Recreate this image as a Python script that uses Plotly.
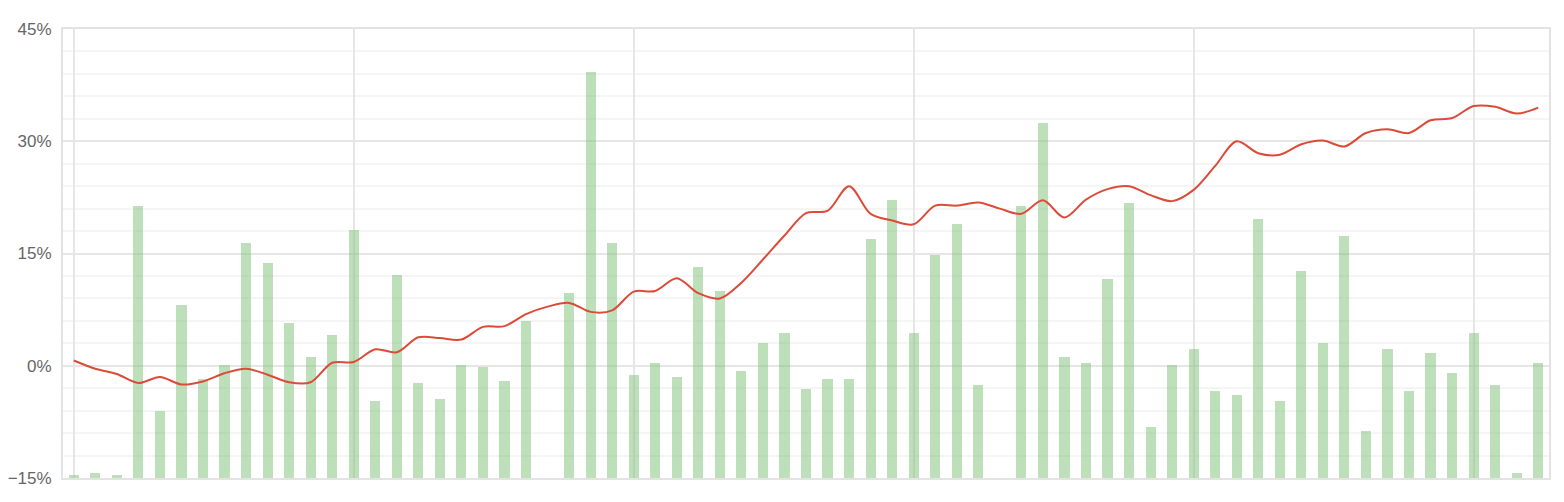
import plotly.graph_objects as go

# period index (one bar per period, no labels shown on the x axis)
periods = list(range(69))

# per-period return, % (None = no bar)
period_returns = [
    -14.6, -14.3, -14.6, 21.4, -6.0, 8.1, -1.8, 0.1, 16.4, 13.7,
    5.7, 1.2, 4.1, 18.2, -4.7, 12.1, -2.3, -4.4, 0.1, -0.2,
    -2.0, 6.0, None, 9.7, 39.3, 16.4, -1.2, 0.4, -1.5, 13.2,
    10.0, -0.7, 3.0, 4.4, -3.1, -1.8, -1.8, 16.9, 22.2, 4.4,
    14.8, 19.0, -2.6, None, 21.4, 32.4, 1.2, 0.4, 11.6, 21.7,
    -8.2, 0.1, 2.2, -3.4, -3.9, 19.6, -4.7, 12.6, 3.0, 17.4,
    -8.7, 2.2, -3.4, 1.7, -1.0, 4.4, -2.6, -14.3, 0.4,
]

# cumulative return, %
cumulative = [
    0.7, -0.4, -1.1, -2.3, -1.5, -2.5, -2.1, -1.0, -0.4, -1.2,
    -2.2, -2.2, 0.4, 0.5, 2.2, 1.8, 3.8, 3.7, 3.5, 5.2,
    5.3, 6.9, 7.9, 8.4, 7.2, 7.4, 9.9, 10.0, 11.7, 9.7,
    9.0, 11.1, 14.2, 17.4, 20.4, 20.7, 24.0, 20.3, 19.4, 18.9,
    21.4, 21.4, 21.8, 21.0, 20.3, 22.1, 19.8, 22.2, 23.6, 24.0,
    22.8, 22.0, 23.5, 26.7, 30.0, 28.4, 28.2, 29.6, 30.1, 29.3,
    31.1, 31.6, 31.1, 32.8, 33.1, 34.7, 34.6, 33.7, 34.5,
]

y_min, y_max = -15, 45

# bars grow from the bottom of the axis, not from zero
bar_heights = [None if v is None else v - y_min for v in period_returns]

fig = go.Figure()

fig.add_trace(go.Bar(
    x=periods,
    y=bar_heights,
    base=y_min,
    width=0.47,
    marker=dict(color='rgba(124,192,117,0.5)', line=dict(width=0)),
    customdata=period_returns,
    hovertemplate='%{customdata}%<extra></extra>',
))

fig.add_trace(go.Scatter(
    x=periods,
    y=cumulative,
    mode='lines',
    line=dict(color='#dc4a38', width=2, shape='spline', smoothing=0.9),
    hovertemplate='%{y}%<extra></extra>',
))

# the page body keeps its default 8px margin, so the figure is sized to fit inside it
fig.update_layout(
    width=1548,
    height=486,
    margin=dict(l=55, r=7, t=21, b=16, autoexpand=False),
    paper_bgcolor='white',
    plot_bgcolor='white',
    showlegend=False,
    bargap=0,
    font=dict(family='Liberation Sans, Arial, sans-serif', size=17, color='#666666'),
)

fig.update_xaxes(
    range=[-0.5, 68.5],
    tick0=0,
    dtick=13,
    showticklabels=False,
    showgrid=True,
    gridcolor='#e6e6e6',
    gridwidth=1.5,
    zeroline=False,
    showline=True,
    linecolor='#e3e3e3',
    linewidth=2,
    mirror=True,
    ticks='',
    automargin=False,
)

fig.update_yaxes(
    range=[y_min, y_max],
    tick0=-15,
    dtick=15,
    ticksuffix='%',
    showgrid=True,
    gridcolor='#e6e6e6',
    gridwidth=1.5,
    minor=dict(dtick=3, showgrid=True, gridcolor='#f5f5f5', gridwidth=1.5),
    zeroline=False,
    showline=True,
    linecolor='#e3e3e3',
    linewidth=2,
    mirror=True,
    ticks='',
    ticklabelstandoff=6,
    automargin=False,
)

fig.write_html("out.html")
